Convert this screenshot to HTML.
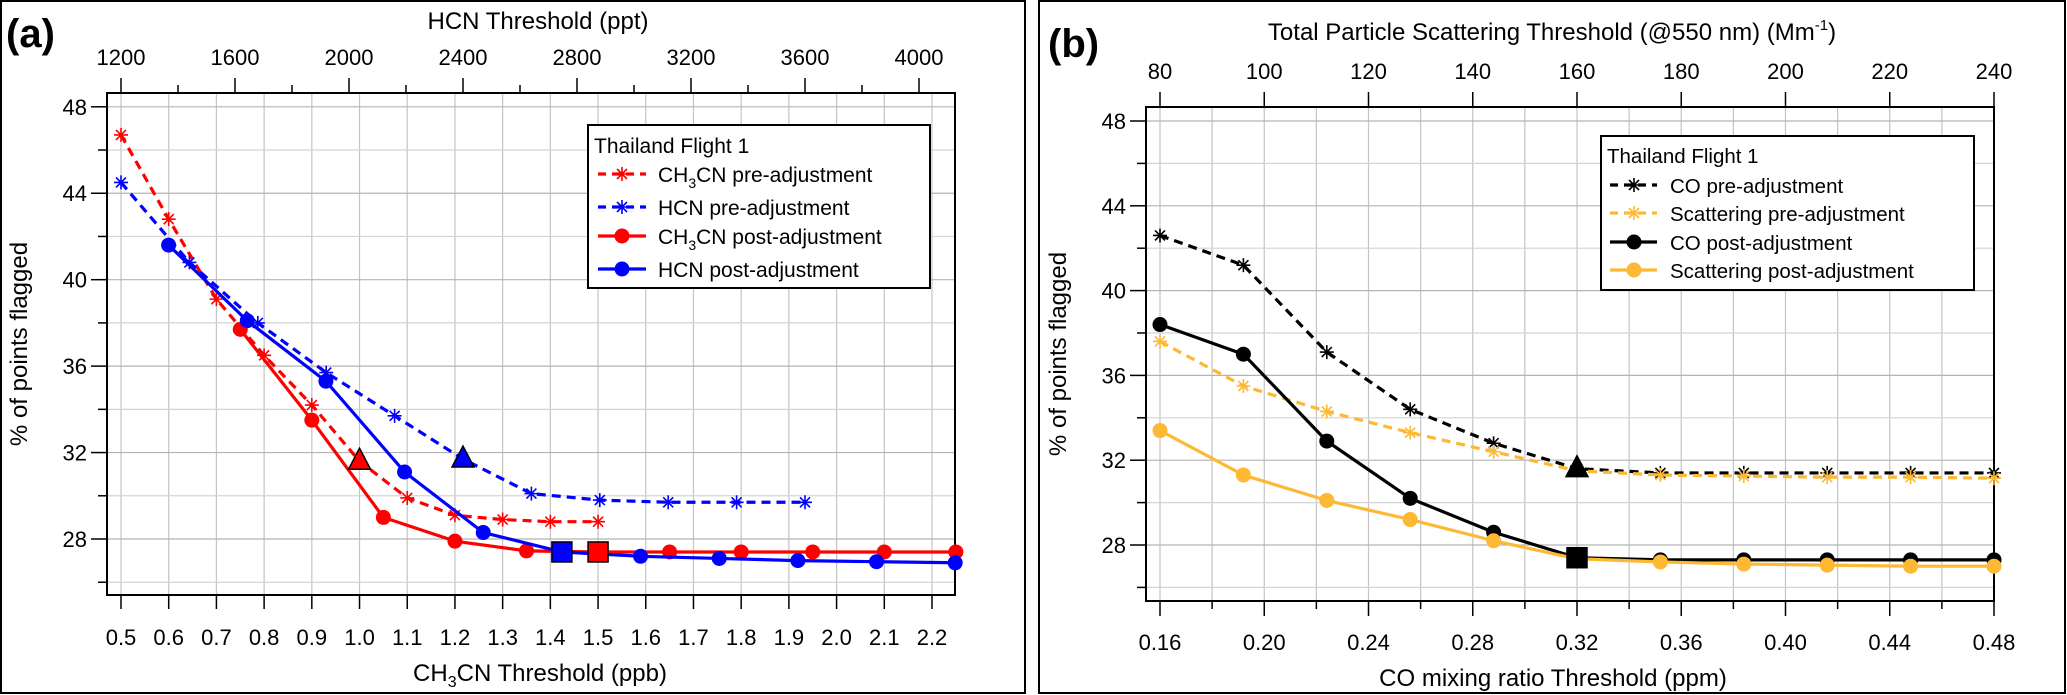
<!DOCTYPE html>
<html><head><meta charset="utf-8"><style>
html,body{margin:0;padding:0;background:#fff}
svg{display:block;font-family:"Liberation Sans",Arial,sans-serif}
</style></head><body>
<svg id="chart" width="2067" height="695" viewBox="0 0 2067 695" xmlns="http://www.w3.org/2000/svg">
<rect x="1" y="1" width="1024" height="692" fill="none" stroke="#000" stroke-width="2"/>
<rect x="1039" y="1" width="1026" height="692" fill="none" stroke="#000" stroke-width="2"/>
<g id="pa"></g>
<g id="pb"></g>
</svg>
<script>
// ---- Panel (a) data ----
const aCh3cnPreX = [0.5,0.6,0.7,0.8,0.9,1.0,1.1,1.2,1.3,1.4,1.5];
const aCh3cnPreY = [46.7,42.8,39.1,36.5,34.2,31.6,29.9,29.1,28.9,28.8,28.8];
const aHcnPreX = [1200,1440,1680,1920,2160,2400,2640,2880,3120,3360,3600];
const aHcnPreY = [44.5,40.8,38.0,35.7,33.7,31.7,30.1,29.8,29.7,29.7,29.7];
const aCh3cnPostX = [0.75,0.9,1.05,1.2,1.35,1.5,1.65,1.8,1.95,2.1,2.25];
const aCh3cnPostY = [37.7,33.5,29.0,27.9,27.45,27.4,27.4,27.4,27.4,27.4,27.4];
const aHcnPostX = [1367,1643,1919,2195,2471,2747,3023,3299,3575,3851,4127];
const aHcnPostY = [41.6,38.1,35.3,31.1,28.3,27.4,27.2,27.1,27.0,26.95,26.9];
const aBottomTicks = ["0.5","0.6","0.7","0.8","0.9","1.0","1.1","1.2","1.3","1.4","1.5","1.6","1.7","1.8","1.9","2.0","2.1","2.2"];
const aTopTicks = [1200,1600,2000,2400,2800,3200,3600,4000];
const yTicks = [28,32,36,40,44,48];
// ---- Panel (b) data ----
const bCoX = [0.16,0.192,0.224,0.256,0.288,0.32,0.352,0.384,0.416,0.448,0.48];
const bCoPreY = [42.6,41.2,37.1,34.4,32.8,31.6,31.4,31.4,31.4,31.4,31.4];
const bScatX = [80,96,112,128,144,160,176,192,208,224,240];
const bScatPreY = [37.6,35.5,34.3,33.3,32.4,31.5,31.3,31.25,31.2,31.2,31.15];
const bCoPostY = [38.4,37.0,32.9,30.2,28.6,27.4,27.3,27.3,27.3,27.3,27.3];
const bScatPostY = [33.4,31.3,30.1,29.2,28.2,27.35,27.2,27.1,27.05,27.0,27.0];
const bBottomTicks = ["0.16","0.20","0.24","0.28","0.32","0.36","0.40","0.44","0.48"];
const bTopTicks = [80,100,120,140,160,180,200,220,240];

const NS="http://www.w3.org/2000/svg";
function mk(parent,tag,attrs,text){const e=document.createElementNS(NS,tag);for(const k in attrs)e.setAttribute(k,attrs[k]);if(text!==undefined)e.textContent=text;parent.appendChild(e);return e;}
function lin(d0,d1,r0,r1){return v=>r0+(v-d0)*(r1-r0)/(d1-d0);}
const RED="#ff0000",BLUE="#0000ff",BLK="#000000",ORG="#fdb933";

function star(g,x,y,c,name){
  const s=mk(g,'path',{d:`M${x-7},${y}H${x+7}M${x},${y-7}V${y+7}M${x-5},${y-5}L${x+5},${y+5}M${x-5},${y+5}L${x+5},${y-5}`,stroke:c,'stroke-width':1.6,fill:'none'});
  
  
}
function dot(g,x,y,c,name){
  const s=mk(g,'circle',{cx:x,cy:y,r:7.5,fill:c});
  
  
}
function series(g,xs,ys,sx,sy,c,dashed,mark,name){
  const pts=xs.map((v,i)=>sx(v)+','+sy(ys[i])).join(' ');
  const l=mk(g,'polyline',{points:pts,fill:'none',stroke:c,'stroke-width':3.2,'stroke-dasharray':dashed?'9,6':'none','stroke-linejoin':'round'});
  
  
  xs.forEach((v,i)=>{ if(mark==='star') star(g,sx(v),sy(ys[i]),c,name+'-point'); else dot(g,sx(v),sy(ys[i]),c,name+'-point'); });
}
function tri(g,x,y,c,name){
  const t=mk(g,'polygon',{points:`${x},${y-13} ${x+11},${y+8} ${x-11},${y+8}`,fill:c,stroke:'#000','stroke-width':1.5});
  
  
}
function sq(g,x,y,c,name){
  const t=mk(g,'rect',{x:x-10,y:y-10,width:20,height:20,fill:c,stroke:'#000','stroke-width':1.5});
  
  
}

function frameAxes(g,L,R,T,B,sy,ymin,ymax){
  // horizontal grid
  for(let v=26;v<=48;v+=2){ if(sy(v)<T||sy(v)>B)continue;
    const gl=mk(g,'line',{x1:L,x2:R,y1:sy(v),y2:sy(v),stroke:(v%4===0)?'#b4b4b4':'#d4d4d4','stroke-width':1.2});
    
    
    const tk=mk(g,'line',{x1:L-(v%4===0?16:9),x2:L,y1:sy(v),y2:sy(v),stroke:'#000','stroke-width':1.5});
    
    
  }
  yTicks.forEach(v=>{const t=mk(g,'text',{x:L-20,y:sy(v)+8,'font-size':22,'text-anchor':'end'},String(v));
    
    });
}

// ===== Panel A =====
(function(){
  const g=document.getElementById('pa');
  const L=107,R=955,T=93,B=595;
  const sx=lin(0.5,2.2,121,932), sh=lin(1200,4000,121,919), sy=lin(28,48,539,106.8);
  for(let i=0;i<aBottomTicks.length;i++){const v=0.5+i*0.1;
    const gl=mk(g,'line',{x1:sx(v),x2:sx(v),y1:T,y2:B,stroke:'#c4c4c4','stroke-width':1.2});
    
    
    const tk=mk(g,'line',{x1:sx(v),x2:sx(v),y1:B,y2:B+14,stroke:'#000','stroke-width':1.5});
    
    
    const t=mk(g,'text',{x:sx(v),y:645,'font-size':22,'text-anchor':'middle'},aBottomTicks[i]);
    
    
  }
  for(let v=1200;v<=4100;v+=200){
    const tk=mk(g,'line',{x1:sh(v),x2:sh(v),y1:T,y2:T-(v%400===0?15:8),stroke:'#000','stroke-width':1.5});
    
    
  }
  aTopTicks.forEach(v=>{const t=mk(g,'text',{x:sh(v),y:65,'font-size':22,'text-anchor':'middle'},String(v));
    
    });
  frameAxes(g,L,R,T,B,sy);
  const ax=mk(g,'rect',{x:L,y:T,width:R-L,height:B-T,fill:'none',stroke:'#000','stroke-width':2});
  
  
  series(g,aCh3cnPreX,aCh3cnPreY,sx,sy,RED,true,'star','ch3cn-pre');
  series(g,aHcnPreX,aHcnPreY,sh,sy,BLUE,true,'star','hcn-pre');
  series(g,aCh3cnPostX,aCh3cnPostY,sx,sy,RED,false,'dot','ch3cn-post');
  series(g,aHcnPostX,aHcnPostY,sh,sy,BLUE,false,'dot','hcn-post');
  tri(g,sx(1.0),sy(31.6),RED,'ch3cn-threshold-triangle');
  tri(g,sh(2400),sy(31.7),BLUE,'hcn-threshold-triangle');
  sq(g,sh(2747),sy(27.4),BLUE,'hcn-threshold-square');
  sq(g,sx(1.5),sy(27.4),RED,'ch3cn-threshold-square');
  // labels
  let t=mk(g,'text',{x:6,y:47,'font-size':40,'font-weight':'bold'},'(a)');
  t=mk(g,'text',{x:538,y:29,'font-size':24,'text-anchor':'middle'},'HCN Threshold (ppt)');
  t=mk(g,'text',{x:540,y:681,'font-size':24,'text-anchor':'middle'});
  t.innerHTML='CH<tspan font-size="16" dy="6">3</tspan><tspan dy="-6">CN Threshold (ppb)</tspan>';
  t=mk(g,'text',{x:0,y:0,'font-size':24,'text-anchor':'middle',transform:'translate(27,344) rotate(-90)'},'% of points flagged');
  // legend
  const lg=mk(g,'g',{});
  mk(lg,'rect',{x:588,y:125,width:342,height:163,fill:'#fff',stroke:'#000','stroke-width':2});
  mk(lg,'text',{x:594,y:153,'font-size':21},'Thailand Flight 1');
  const ents=[[RED,true,'CH<tspan font-size="14" dy="6">3</tspan><tspan dy="-6">CN pre-adjustment</tspan>',174],[BLUE,true,'HCN pre-adjustment',207],[RED,false,'CH<tspan font-size="14" dy="6">3</tspan><tspan dy="-6">CN post-adjustment</tspan>',236],[BLUE,false,'HCN post-adjustment',269]];
  ents.forEach(e=>{const eg=mk(lg,'g',{});
    mk(eg,'line',{x1:598,x2:646,y1:e[3],y2:e[3],stroke:e[0],'stroke-width':3.2,'stroke-dasharray':e[1]?'8,6':'none'});
    if(e[1]) star(eg,622,e[3],e[0],'legend-marker'); else dot(eg,622,e[3],e[0],'legend-marker');
    const tx=mk(eg,'text',{x:658,y:e[3]+8,'font-size':21});tx.innerHTML=e[2];});
})();

// ===== Panel B =====
(function(){
  const g=document.getElementById('pb');
  const L=1146,R=1994,T=107,B=601;
  const sx=lin(0.16,0.48,1160,1994), st=lin(80,240,1160,1994), sy=lin(28,48,545,121);
  for(let i=0;i<=16;i++){const v=0.16+i*0.02;
    const gl=mk(g,'line',{x1:sx(v),x2:sx(v),y1:T,y2:B,stroke:'#c4c4c4','stroke-width':1.2});
    
    
    const tk=mk(g,'line',{x1:sx(v),x2:sx(v),y1:B,y2:B+(i%2===0?15:8),stroke:'#000','stroke-width':1.5});
    
    
  }
  bBottomTicks.forEach(s=>{const t=mk(g,'text',{x:sx(parseFloat(s)),y:650,'font-size':22,'text-anchor':'middle'},s);
    
    });
  bTopTicks.forEach(v=>{
    const tk=mk(g,'line',{x1:st(v),x2:st(v),y1:T,y2:T-15,stroke:'#000','stroke-width':1.5});
    
    
    const t=mk(g,'text',{x:st(v),y:79,'font-size':22,'text-anchor':'middle'},String(v));
    
    });
  frameAxes(g,L,R,T,B,sy);
  const ax=mk(g,'rect',{x:L,y:T,width:R-L,height:B-T,fill:'none',stroke:'#000','stroke-width':2});
  
  
  series(g,bCoX,bCoPreY,sx,sy,BLK,true,'star','co-pre');
  series(g,bScatX,bScatPreY,st,sy,ORG,true,'star','scattering-pre');
  series(g,bCoX,bCoPostY,sx,sy,BLK,false,'dot','co-post');
  series(g,bScatX,bScatPostY,st,sy,ORG,false,'dot','scattering-post');
  tri(g,sx(0.32),sy(31.6),BLK,'co-threshold-triangle');
  sq(g,sx(0.32),sy(27.4),BLK,'co-threshold-square');
  let t=mk(g,'text',{x:1048,y:57,'font-size':40,'font-weight':'bold'},'(b)');
  t=mk(g,'text',{x:1552,y:40,'font-size':24,'text-anchor':'middle'});
  t.innerHTML='Total Particle Scattering Threshold (@550 nm) (Mm<tspan font-size="15" dy="-10">-1</tspan><tspan dy="10">)</tspan>';
  t=mk(g,'text',{x:1553,y:686,'font-size':24,'text-anchor':'middle'},'CO mixing ratio Threshold (ppm)');
  t=mk(g,'text',{x:0,y:0,'font-size':24,'text-anchor':'middle',transform:'translate(1066,354) rotate(-90)'},'% of points flagged');
  const lg=mk(g,'g',{});
  mk(lg,'rect',{x:1601,y:136,width:373,height:154,fill:'#fff',stroke:'#000','stroke-width':2});
  mk(lg,'text',{x:1607,y:163,'font-size':20.5},'Thailand Flight 1');
  const ents=[[BLK,true,'CO pre-adjustment',185],[ORG,true,'Scattering pre-adjustment',213],[BLK,false,'CO post-adjustment',242],[ORG,false,'Scattering post-adjustment',270]];
  ents.forEach(e=>{const eg=mk(lg,'g',{});
    mk(eg,'line',{x1:1610,x2:1657,y1:e[3],y2:e[3],stroke:e[0],'stroke-width':3.2,'stroke-dasharray':e[1]?'8,6':'none'});
    if(e[1]) star(eg,1634,e[3],e[0],'legend-marker'); else dot(eg,1634,e[3],e[0],'legend-marker');
    mk(eg,'text',{x:1670,y:e[3]+8,'font-size':20.5},e[2]);});
})();
</script>
</body></html>
